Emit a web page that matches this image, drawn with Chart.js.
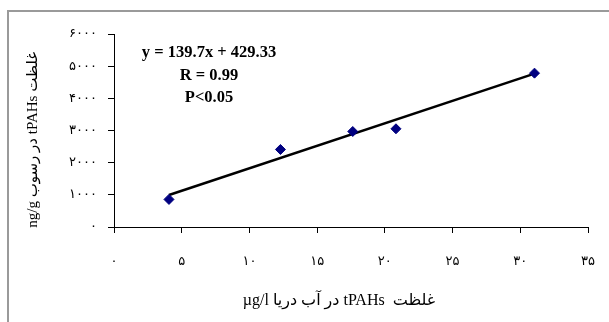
<!DOCTYPE html>
<html>
<head>
<meta charset="utf-8">
<script src="https://cdn.jsdelivr.net/npm/chart.js@4.4.1/dist/chart.umd.min.js"></script>
<style>
  html, body { margin: 0; padding: 0; background: #fff; }
  #wrap { width: 609px; height: 322px; position: relative; }
</style>
</head>
<body>
<div id="wrap"><canvas id="c" width="609" height="322"></canvas></div>
<script>
// tPAHs in sea water (µg/l) vs tPAHs in sediment (ng/g)
const waterConc = [4.06, 12.29, 17.63, 20.82, 31.05];
const sedimentConc = [857, 2410, 2969, 3053, 4783];

// Fitted line, as stated in the equation label
const slope = 139.7;
const intercept = 429.33;
const statsLines = ['y = 139.7x + 429.33', 'R = 0.99', 'P<0.05'];

// Tick labels in Persian digits
const xTickLabels = ['۰', '۵', '۱۰', '۱۵', '۲۰', '۲۵', '۳۰', '۳۵'];
const yTickLabels = ['۰', '۱۰۰۰', '۲۰۰۰', '۳۰۰۰', '۴۰۰۰', '۵۰۰۰', '۶۰۰۰'];

const xTitle = '\u202B      غلظت  tPAHs در آب دریا µg/l\u202C';
const yTitle = '\u202B     غلظت tPAHs در رسوب ng/g\u202C';

const points = waterConc.map((x, i) => ({ x: x, y: sedimentConc[i] }));
const xMin = Math.min(...waterConc);
const xMax = Math.max(...waterConc);
const fitLine = [
  { x: xMin, y: slope * xMin + intercept },
  { x: xMax, y: slope * xMax + intercept }
];

const serif = "'Liberation Serif', 'Times New Roman', 'DejaVu Sans', serif";
const sans = "'DejaVu Sans', 'Liberation Sans', sans-serif";

// Grey frame along the top and left edges
const framePlugin = {
  id: 'frame',
  beforeDraw(chart) {
    const ctx = chart.ctx;
    ctx.save();
    ctx.strokeStyle = '#9a9a9a';
    ctx.lineWidth = 2;
    ctx.beginPath();
    ctx.moveTo(8, chart.height);
    ctx.lineTo(8, 11);
    ctx.lineTo(chart.width, 11);
    ctx.stroke();
    ctx.restore();
  }
};

// Regression statistics block inside the plot area
const statsPlugin = {
  id: 'stats',
  afterDatasetsDraw(chart) {
    const { ctx, chartArea } = chart;
    ctx.save();
    ctx.fillStyle = '#000';
    ctx.font = 'bold 16.5px ' + serif;
    ctx.textAlign = 'center';
    ctx.textBaseline = 'middle';
    const cx = chartArea.left + 95;
    const offsets = [19, 42, 64];
    statsLines.forEach((t, i) => ctx.fillText(t, cx, chartArea.top + offsets[i]));
    ctx.restore();
  }
};

new Chart(document.getElementById('c'), {
  type: 'scatter',
  data: {
    datasets: [
      {
        label: 'fit',
        type: 'line',
        data: fitLine,
        borderColor: '#000',
        borderWidth: 2.5,
        pointRadius: 0,
        fill: false,
        order: 2
      },
      {
        label: 'tPAHs',
        data: points,
        pointStyle: 'rectRot',
        pointRadius: 5,
        backgroundColor: '#000080',
        borderColor: '#000080',
        borderWidth: 1,
        order: 1
      }
    ]
  },
  options: {
    responsive: false,
    animation: false,
    devicePixelRatio: 1,
    layout: { padding: { left: 0, top: 34, right: 21, bottom: 0 } },
    plugins: {
      legend: { display: false },
      tooltip: { enabled: false }
    },
    scales: {
      x: {
        type: 'linear',
        min: 0,
        max: 35,
        ticks: {
          stepSize: 5,
          color: '#000',
          padding: 21,
          maxRotation: 0,
          font: { family: sans, size: 13 },
          callback: (v, i) => xTickLabels[i]
        },
        grid: { display: true, drawOnChartArea: false, drawTicks: true, tickLength: 6, color: '#000' },
        border: { display: true, color: '#000', width: 1 },
        title: {
          display: true,
          text: xTitle,
          color: '#000',
          font: { family: serif, size: 16 },
          padding: { top: 0, bottom: 12 }
        },
        afterFit(scale) {
          scale.height = 95;
          scale.paddingLeft = 0;
          scale.paddingRight = 0;
        }
      },
      y: {
        type: 'linear',
        min: 0,
        max: 6000,
        ticks: {
          stepSize: 1000,
          color: '#000',
          padding: 11,
          font: { family: sans, size: 13 },
          callback: (v, i) => yTickLabels[i]
        },
        grid: { display: true, drawOnChartArea: false, drawTicks: true, tickLength: 6, color: '#000' },
        border: { display: true, color: '#000', width: 1 },
        title: {
          display: true,
          text: yTitle,
          color: '#000',
          font: { family: serif, size: 15 },
          padding: { top: 24, bottom: 0 }
        },
        afterFit(scale) { scale.width = 114; }
      }
    }
  },
  plugins: [framePlugin, statsPlugin]
});
</script>
</body>
</html>
